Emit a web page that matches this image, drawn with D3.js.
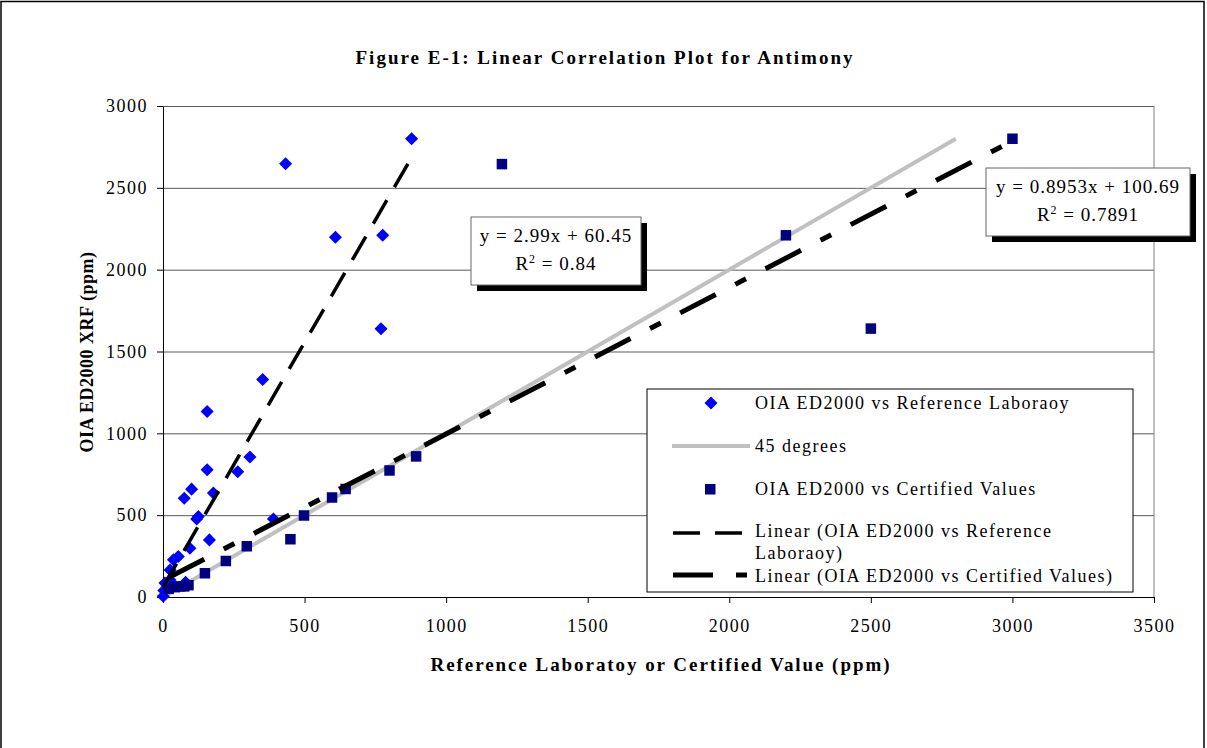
<!DOCTYPE html>
<html>
<head>
<meta charset="utf-8">
<script src="https://cdn.jsdelivr.net/npm/d3@7"></script>
<style>
    body { margin: 0; background: #fff; }
    svg text { font-family: "Liberation Serif", "DejaVu Serif", serif; fill: #000; }
</style>
</head>
<body>
<svg id="svg"></svg>
<script>

    // - data
    var refLabX = [1, 3, 7, 25, 25, 37, 54, 80, 95, 119, 125, 164, 75, 101, 178, 156, 264, 307, 156, 352, 390, 433, 609, 776, 770, 878];
    var refLabY = [5, 40, 85, 104, 165, 227, 247, 90, 298, 476, 492, 349, 604, 659, 635, 778, 765, 855, 1133, 1329, 476, 2647, 2198, 2210, 1639, 2800];

    var certX = [20, 42, 60, 75, 90, 148, 222, 296, 450, 498, 597, 645, 800, 894, 1197, 2200, 2500, 3000];
    var certY = [50, 60, 65, 65, 72, 145, 220, 310, 353, 498, 608, 660, 773, 859, 2645, 2210, 1640, 2800];

    var line45 = [[0, 0], [2800, 2800]];
    var refTrend = [[0, 60.45], [878, 2685.7]];
    var certTrend = [[20, 118.6], [3000, 2786.6]];

    var xTicks = [0, 500, 1000, 1500, 2000, 2500, 3000, 3500];
    var yTicks = [0, 500, 1000, 1500, 2000, 2500, 3000];

    var legendLabels = ["OIA ED2000 vs Reference Laboraoy", "45 degrees", "OIA ED2000 vs Certified Values",
                        "Linear (OIA ED2000 vs Reference", "Laboraoy)", "Linear (OIA ED2000 vs Certified Values)"];

    var W = 1207, H = 748;
    var svg = d3.select("svg#svg")
        .attr("width", W)
        .attr("height", H)
        .style("display", "block");

    // - outer chart border
    svg.append("rect")
        .attr("x", 1).attr("y", 1.5)
        .attr("width", 1203).attr("height", 800)
        .style("fill", "white")
        .style("stroke", "#000")
        .style("stroke-width", 1.5);

    var x = d3.scaleLinear().domain([0, 3500]).range([163, 1154]);
    var y = d3.scaleLinear().domain([0, 3000]).range([597, 106]);

    // - grid lines
    svg.append("g")
        .attr("transform", "translate(163,0)")
        .call(d3.axisLeft(y).tickValues(yTicks.slice(1)).tickSize(-(1154 - 163)).tickFormat(""))
        .call(function(g) { g.select(".domain").remove(); })
        .selectAll("line")
        .style("stroke", "#5a5a5a");

    // - right border of plot area
    svg.append("line")
        .attr("x1", 1154).attr("x2", 1154)
        .attr("y1", y(3000)).attr("y2", y(0))
        .style("stroke", "#808080");

    // - axes
    var yAxis = svg.append("g")
        .attr("transform", "translate(163,0)")
        .call(d3.axisLeft(y).tickValues(yTicks).tickFormat(d3.format("d"))
            .tickSize(6).tickPadding(9).tickSizeOuter(0));
    var xAxis = svg.append("g")
        .attr("transform", "translate(0,597)")
        .call(d3.axisBottom(x).tickValues(xTicks).tickFormat(d3.format("d"))
            .tickSize(6).tickPadding(16).tickSizeOuter(0));

    [xAxis, yAxis].forEach(function(a) {
        a.selectAll("line").style("stroke", "#000");
        a.select(".domain").style("stroke", "#000");
        a.selectAll("text")
            .style("font-family", "Liberation Serif")
            .style("font-size", "18px")
            .style("letter-spacing", "1.5px");
    });

    // - 45 degree line
    var lineGen = d3.line()
        .x(function(d) { return x(d[0]); })
        .y(function(d) { return y(d[1]); });

    svg.append("path")
        .attr("d", lineGen(line45))
        .style("fill", "none")
        .style("stroke", "#c0c0c0")
        .style("stroke-width", 4);

    // - reference lab diamonds
    var refData = refLabX.map(function(v, i) { return [v, refLabY[i]]; });
    var diamond = d3.symbol().type(d3.symbolSquare).size(85);
    svg.append("g").selectAll("path")
        .data(refData)
        .enter()
        .append("path")
        .attr("d", diamond)
        .attr("transform", function(d) { return "translate(" + x(d[0]) + "," + y(d[1]) + ") rotate(45)"; })
        .style("fill", "#0000ff");

    // - certified value squares
    var certData = certX.map(function(v, i) { return [v, certY[i]]; });
    svg.append("g").selectAll("rect")
        .data(certData)
        .enter()
        .append("rect")
        .attr("x", function(d) { return x(d[0]) - 5.25; })
        .attr("y", function(d) { return y(d[1]) - 5.25; })
        .attr("width", 10.5)
        .attr("height", 10.5)
        .style("fill", "#000080");

    // - trend lines
    svg.append("path")
        .attr("d", lineGen(refTrend))
        .style("fill", "none")
        .style("stroke", "#000")
        .style("stroke-width", 3.5)
        .style("stroke-dasharray", "27,15");

    svg.append("path")
        .attr("d", lineGen(certTrend))
        .style("fill", "none")
        .style("stroke", "#000")
        .style("stroke-width", 5)
        .style("stroke-dasharray", "40,22,12,22");

    // - equation boxes
    function eqBox(bx, by, bw, bh, line1, r2) {
        svg.append("rect")
            .attr("x", bx + 6).attr("y", by + 6)
            .attr("width", bw).attr("height", bh)
            .style("fill", "#000");
        svg.append("rect")
            .attr("x", bx).attr("y", by)
            .attr("width", bw).attr("height", bh)
            .style("fill", "white")
            .style("stroke", "#666")
            .style("stroke-width", 1);
        svg.append("text")
            .attr("x", bx + bw / 2).attr("y", by + 25)
            .style("text-anchor", "middle")
            .style("font-size", "19px")
            .style("letter-spacing", "1px")
            .text(line1);
        var t = svg.append("text")
            .attr("x", bx + bw / 2).attr("y", by + 53)
            .style("text-anchor", "middle")
            .style("font-size", "19px")
            .style("letter-spacing", "1px");
        t.append("tspan").text("R");
        t.append("tspan").attr("dy", -7).style("font-size", "12px").text("2");
        t.append("tspan").attr("dy", 7).text(" = " + r2);
    }
    eqBox(471, 217, 170, 68, "y = 2.99x + 60.45", "0.84");
    eqBox(986, 168, 204, 68, "y = 0.8953x + 100.69", "0.7891");

    // - legend
    var leg = svg.append("g");
    leg.append("rect")
        .attr("x", 647).attr("y", 389)
        .attr("width", 486).attr("height", 203)
        .style("fill", "white")
        .style("stroke", "#000")
        .style("stroke-width", 1);

    leg.append("path")
        .attr("d", diamond)
        .attr("transform", "translate(711,403) rotate(45)")
        .style("fill", "#0000ff");
    leg.append("line")
        .attr("x1", 672).attr("x2", 750).attr("y1", 446).attr("y2", 446)
        .style("stroke", "#c0c0c0").style("stroke-width", 4);
    leg.append("rect")
        .attr("x", 705).attr("y", 484).attr("width", 10.5).attr("height", 10.5)
        .style("fill", "#000080");
    leg.append("line")
        .attr("x1", 673).attr("x2", 742).attr("y1", 533).attr("y2", 533)
        .style("stroke", "#000").style("stroke-width", 3.5)
        .style("stroke-dasharray", "27,15");
    leg.append("line")
        .attr("x1", 673).attr("x2", 747).attr("y1", 575).attr("y2", 575)
        .style("stroke", "#000").style("stroke-width", 5)
        .style("stroke-dasharray", "40,23,11,23");

    var legY = [403, 446, 489, 531, 553, 576];
    leg.selectAll("text.leg")
        .data(legendLabels)
        .enter()
        .append("text")
        .attr("class", "leg")
        .attr("x", 755)
        .attr("y", function(d, i) { return legY[i]; })
        .attr("dy", "0.35em")
        .style("font-size", "18px")
        .style("letter-spacing", "1.5px")
        .text(function(d) { return d; });

    // - titles
    svg.append("text")
        .attr("x", 604).attr("y", 64)
        .style("text-anchor", "middle")
        .style("font-weight", "bold")
        .style("font-size", "19px")
        .attr("textLength", 497)
        .attr("lengthAdjust", "spacing")
        .text("Figure E-1:  Linear Correlation Plot for Antimony");

    svg.append("text")
        .attr("x", 660).attr("y", 671)
        .style("text-anchor", "middle")
        .style("font-weight", "bold")
        .style("font-size", "19px")
        .attr("textLength", 459)
        .attr("lengthAdjust", "spacing")
        .text("Reference Laboratoy or Certified Value (ppm)");

    svg.append("text")
        .attr("transform", "translate(93,352) rotate(-90)")
        .style("text-anchor", "middle")
        .style("font-weight", "bold")
        .style("font-size", "18px")
        .style("letter-spacing", "0.5px")
        .text("OIA ED2000 XRF (ppm)");

</script>
</body>
</html>
